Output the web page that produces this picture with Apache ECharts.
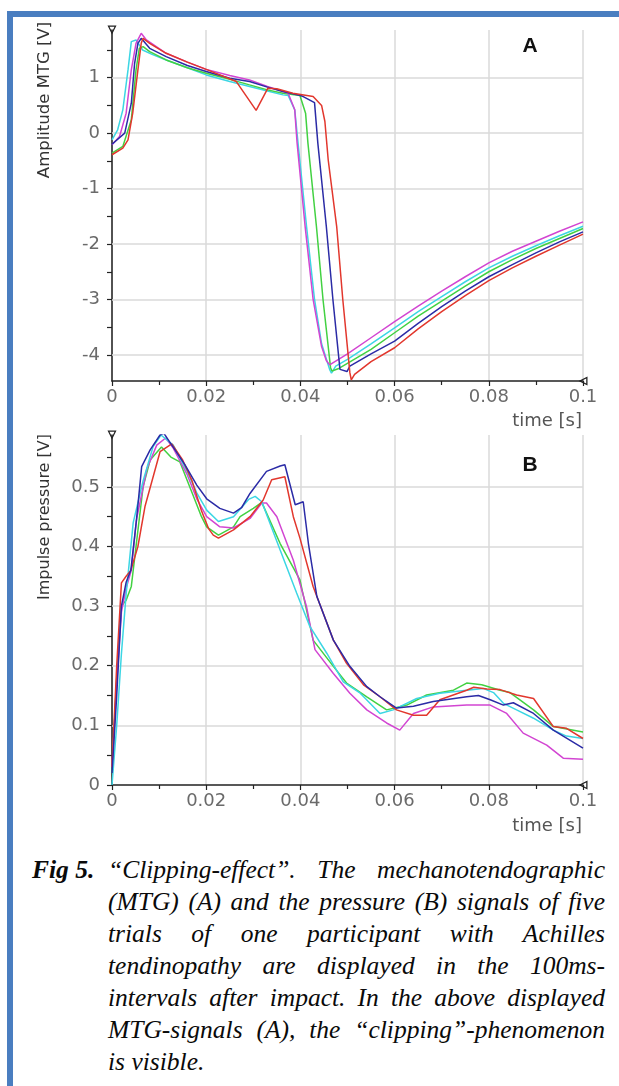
<!DOCTYPE html>
<html>
<head>
<meta charset="utf-8">
<script src="https://cdn.jsdelivr.net/npm/echarts@6/dist/echarts.min.js"></script>
<style>
  html, body { margin: 0; padding: 0; background: #fff; }
  body { width: 619px; height: 1086px; position: relative; overflow: hidden; }
  #chart { position: absolute; left: 0; top: 0; width: 619px; height: 850px; }
  .bar-top { position: absolute; left: 7px; top: 11px; width: 612px; height: 6px; background: #4a7ec0; }
  .bar-left { position: absolute; left: 7px; top: 11px; width: 6px; height: 1075px; background: #4a7ec0; }
  #cap { position: absolute; left: 0; top: 854px; width: 619px; font-family: "Liberation Serif", "DejaVu Serif", serif; font-style: italic; font-size: 25.5px; line-height: 32px; color: #0a0a0a; }
  #cap .fig { position: absolute; left: 32px; top: 0; font-weight: bold; }
  #cap .ln { position: absolute; left: 108px; width: 497px; white-space: nowrap; text-align: justify; text-align-last: justify; }
  #cap .ln.last { text-align: left; text-align-last: left; }
</style>
</head>
<body>
<div class="bar-top"></div>
<div class="bar-left"></div>
<div id="chart"></div>
<div id="cap"></div>
<script>
// ---------------- DATA ----------------
// (A) MTG amplitude [V] vs time [s]  — five trials
const mtgCyan = [[0,-0.12],[0.0012,0.06],[0.0023,0.42],[0.0034,1.14],[0.0041,1.65],[0.0051,1.68],[0.0058,1.59],[0.0065,1.5],[0.0085,1.42],[0.0115,1.32],[0.016,1.18],[0.02,1.05],[0.025,0.93],[0.0292,0.84],[0.033,0.76],[0.0363,0.69],[0.0374,0.68],[0.0388,0.42],[0.0395,-0.18],[0.0413,-1.68],[0.043,-3.0],[0.0445,-3.8],[0.0462,-4.26],[0.0466,-4.33],[0.0475,-4.2],[0.05,-4.08],[0.055,-3.8],[0.06,-3.51],[0.065,-3.22],[0.07,-2.95],[0.075,-2.68],[0.08,-2.43],[0.085,-2.22],[0.09,-2.03],[0.095,-1.85],[0.1,-1.68]];
const mtgMagenta = [[0,-0.21],[0.0016,-0.06],[0.003,0.36],[0.0041,1.14],[0.0051,1.62],[0.0062,1.8],[0.0073,1.68],[0.0115,1.44],[0.016,1.28],[0.02,1.15],[0.025,1.04],[0.0292,0.96],[0.033,0.84],[0.0363,0.75],[0.0374,0.72],[0.0388,0.42],[0.0393,-0.18],[0.041,-1.68],[0.0427,-3.0],[0.0445,-3.85],[0.0455,-4.1],[0.0462,-4.18],[0.05,-3.98],[0.055,-3.69],[0.06,-3.4],[0.065,-3.12],[0.07,-2.85],[0.075,-2.59],[0.08,-2.34],[0.085,-2.13],[0.09,-1.95],[0.095,-1.77],[0.1,-1.6]];
const mtgBlue = [[0,-0.2],[0.0027,0],[0.0041,0.54],[0.0048,1.26],[0.0055,1.62],[0.0062,1.71],[0.008,1.53],[0.0115,1.38],[0.016,1.22],[0.02,1.11],[0.025,0.99],[0.0292,0.93],[0.033,0.83],[0.0363,0.75],[0.04,0.68],[0.0406,0.66],[0.043,0.55],[0.0437,-0.18],[0.0455,-1.68],[0.0469,-3.0],[0.0484,-4.26],[0.0499,-4.3],[0.0505,-4.2],[0.055,-3.98],[0.06,-3.75],[0.065,-3.43],[0.07,-3.13],[0.075,-2.85],[0.08,-2.59],[0.085,-2.37],[0.09,-2.16],[0.095,-1.96],[0.1,-1.78]];
const mtgGreen = [[0,-0.36],[0.0023,-0.24],[0.0041,0.24],[0.0051,1.14],[0.0058,1.53],[0.0066,1.56],[0.008,1.47],[0.0115,1.32],[0.016,1.18],[0.02,1.08],[0.025,0.97],[0.0292,0.87],[0.033,0.78],[0.0363,0.72],[0.0399,0.68],[0.0411,0.36],[0.0416,-0.18],[0.0434,-1.68],[0.0448,-3.0],[0.0464,-4.23],[0.0467,-4.29],[0.048,-4.25],[0.055,-3.9],[0.06,-3.6],[0.065,-3.3],[0.07,-3.03],[0.075,-2.76],[0.08,-2.5],[0.085,-2.28],[0.09,-2.08],[0.095,-1.9],[0.1,-1.72]];
const mtgRed = [[0,-0.39],[0.0023,-0.27],[0.0034,-0.12],[0.0044,0.36],[0.0055,1.14],[0.0062,1.62],[0.0066,1.71],[0.008,1.62],[0.0115,1.44],[0.016,1.28],[0.02,1.15],[0.0264,0.93],[0.0306,0.41],[0.0331,0.81],[0.035,0.8],[0.0384,0.72],[0.0427,0.66],[0.0445,0.5],[0.0452,0.21],[0.0459,-0.48],[0.0477,-1.68],[0.049,-3.0],[0.0505,-4.32],[0.0508,-4.45],[0.0515,-4.35],[0.055,-4.12],[0.06,-3.87],[0.065,-3.53],[0.07,-3.22],[0.075,-2.93],[0.08,-2.66],[0.085,-2.43],[0.09,-2.22],[0.095,-2.02],[0.1,-1.82]];

// (B) impulse pressure [V] vs time [s] — five trials
const pressBlue = [[0,0.02],[0.001,0.15],[0.002,0.3],[0.003,0.34],[0.004,0.36],[0.0052,0.445],[0.0063,0.534],[0.0081,0.562],[0.0102,0.587],[0.011,0.59],[0.0127,0.57],[0.0155,0.537],[0.018,0.503],[0.0201,0.48],[0.0229,0.464],[0.0258,0.456],[0.0275,0.465],[0.0293,0.489],[0.0328,0.526],[0.0357,0.535],[0.0367,0.537],[0.0389,0.47],[0.0406,0.475],[0.0417,0.405],[0.0435,0.316],[0.047,0.243],[0.0505,0.199],[0.0541,0.165],[0.0569,0.148],[0.0604,0.129],[0.064,0.132],[0.0682,0.14],[0.0753,0.148],[0.0778,0.15],[0.0803,0.143],[0.0831,0.134],[0.0852,0.138],[0.0895,0.12],[0.0937,0.092],[0.1,0.062]];
const pressRed = [[0,0.03],[0.001,0.2],[0.002,0.339],[0.003,0.35],[0.004,0.36],[0.0055,0.4],[0.007,0.467],[0.0102,0.559],[0.0127,0.572],[0.015,0.545],[0.017,0.51],[0.019,0.46],[0.0205,0.43],[0.0215,0.419],[0.0226,0.414],[0.0258,0.428],[0.0293,0.45],[0.0321,0.478],[0.0339,0.512],[0.0367,0.517],[0.0385,0.45],[0.0399,0.414],[0.0427,0.333],[0.047,0.243],[0.0498,0.204],[0.0534,0.168],[0.0569,0.148],[0.0604,0.126],[0.064,0.117],[0.0668,0.117],[0.0696,0.143],[0.0753,0.159],[0.0768,0.164],[0.0796,0.161],[0.0824,0.16],[0.0859,0.151],[0.0895,0.145],[0.0937,0.098],[0.0965,0.095],[0.1,0.078]];
const pressCyan = [[0,0],[0.001,0.1],[0.002,0.22],[0.003,0.32],[0.0045,0.44],[0.0066,0.51],[0.0087,0.567],[0.0104,0.587],[0.013,0.57],[0.016,0.525],[0.018,0.49],[0.0201,0.461],[0.0226,0.442],[0.0258,0.45],[0.029,0.479],[0.0304,0.484],[0.0318,0.475],[0.0357,0.394],[0.0392,0.322],[0.042,0.266],[0.0456,0.221],[0.0491,0.173],[0.0527,0.154],[0.0569,0.12],[0.0597,0.126],[0.0647,0.145],[0.0696,0.154],[0.0753,0.159],[0.0788,0.162],[0.081,0.155],[0.0831,0.137],[0.0859,0.126],[0.0895,0.112],[0.0937,0.092],[0.0965,0.082],[0.1,0.078]];
const pressGreen = [[0,0.02],[0.001,0.18],[0.002,0.3],[0.003,0.31],[0.0041,0.333],[0.0051,0.4],[0.0066,0.5],[0.0081,0.545],[0.0105,0.567],[0.0125,0.55],[0.0144,0.542],[0.017,0.49],[0.019,0.45],[0.0201,0.433],[0.0226,0.419],[0.0258,0.433],[0.0272,0.45],[0.03,0.464],[0.0318,0.474],[0.0357,0.405],[0.0399,0.344],[0.0427,0.243],[0.047,0.199],[0.0498,0.171],[0.0541,0.148],[0.0583,0.126],[0.0626,0.134],[0.0668,0.151],[0.0725,0.159],[0.0753,0.171],[0.0785,0.168],[0.0824,0.159],[0.0845,0.155],[0.0895,0.126],[0.0937,0.098],[0.1,0.089]];
const pressMagenta = [[0,0.03],[0.001,0.17],[0.002,0.29],[0.003,0.33],[0.0041,0.36],[0.0052,0.445],[0.0074,0.53],[0.0095,0.57],[0.0114,0.582],[0.013,0.565],[0.016,0.52],[0.018,0.48],[0.0201,0.45],[0.0229,0.433],[0.0258,0.431],[0.0293,0.447],[0.0318,0.473],[0.0328,0.473],[0.035,0.45],[0.0385,0.377],[0.0413,0.299],[0.0431,0.227],[0.047,0.187],[0.0505,0.154],[0.0541,0.126],[0.0583,0.104],[0.0611,0.092],[0.064,0.12],[0.0682,0.131],[0.0753,0.134],[0.0803,0.134],[0.0838,0.12],[0.0873,0.087],[0.0923,0.067],[0.0958,0.045],[0.1,0.043]];

// axis ticks / labels
const mtgLabelTicks = [-4, -3, -2, -1, 0, 1];
const mtgMinorTicks = [-4, -3.5, -3, -2.5, -2, -1.5, -1, -0.5, 0, 0.5, 1, 1.5];
const pressLabelTicks = [0, 0.1, 0.2, 0.3, 0.4, 0.5];
const pressMinorTicks = [0, 0.05, 0.1, 0.15, 0.2, 0.25, 0.3, 0.35, 0.4, 0.45, 0.5, 0.55];

const captionFig = 'Fig 5.';
const captionLines = [
  '\u201CClipping-effect\u201D. The mechanotendographic',
  '(MTG) (A) and the pressure (B) signals of five',
  'trials of one participant with Achilles',
  'tendinopathy are displayed in the 100ms-',
  'intervals after impact. In the above displayed',
  'MTG-signals (A), the \u201Cclipping\u201D-phenomenon',
  'is visible.'
];

// ---------------- CAPTION ----------------
const cap = document.getElementById('cap');
const f = document.createElement('div'); f.className = 'fig'; f.textContent = captionFig; cap.appendChild(f);
captionLines.forEach((t, i) => {
  const d = document.createElement('div');
  d.className = 'ln' + (i === captionLines.length - 1 ? ' last' : '');
  d.style.top = (i * 32) + 'px';
  d.textContent = t;
  cap.appendChild(d);
});

// ---------------- CHART ----------------
const colors = { red: '#e2372d', blue: '#2b2ba6', green: '#42d142', cyan: '#3cd6e4', magenta: '#d245d2' };
const tickFont = { color: '#6a6a6a', fontSize: 18, fontFamily: 'DejaVu Sans' };
const gridColor = '#dadada';
const endSym = 'path://M0,0 L10,0 L5,10 Z M2.2,1.4 L5,7 L7.8,1.4 Z';

function xAxisDef(gi) {
  return {
    type: 'value', gridIndex: gi, min: 0, max: 0.1, interval: 0.02,
    axisLine: { show: true, onZero: false, lineStyle: { color: '#222', width: 1.5 }, symbol: ['none', endSym], symbolSize: [9, 9] },
    axisTick: { show: true, length: 5, lineStyle: { color: '#222', width: 1.2 } },
    minorTick: { show: true, splitNumber: 2, length: 4, lineStyle: { color: '#222', width: 1.2 } },
    axisLabel: Object.assign({ margin: 7 }, tickFont),
    splitLine: { show: true, lineStyle: { color: gridColor, width: 1.5 } }
  };
}
function yAxisDef(gi, mn, mx, labels, ticks) {
  return {
    type: 'value', gridIndex: gi, min: mn, max: mx,
    axisLine: { show: true, onZero: false, lineStyle: { color: '#222', width: 1.5 }, symbol: ['none', endSym], symbolSize: [9, 9] },
    axisTick: { show: true, length: 5, customValues: ticks, lineStyle: { color: '#222', width: 1.2 } },
    axisLabel: Object.assign({ margin: 12, customValues: labels }, tickFont),
    splitLine: { show: false }
  };
}
function gridLines(vals) {
  return {
    silent: true, symbol: 'none', z: 1,
    label: { show: false },
    lineStyle: { color: gridColor, width: 1.5, type: 'solid' },
    emphasis: { disabled: true },
    data: vals.map(v => ({ yAxis: v }))
  };
}
function ser(name, data, color, xi, extra) {
  return Object.assign({
    name, type: 'line', data, xAxisIndex: xi, yAxisIndex: xi,
    showSymbol: false, symbol: 'none', smooth: false, animation: false,
    lineStyle: { color, width: 1.5 }, itemStyle: { color }, z: 3
  }, extra || {});
}

const chart = echarts.init(document.getElementById('chart'), null, { renderer: 'canvas' });
chart.setOption({
  animation: false,
  backgroundColor: 'transparent',
  grid: [
    { left: 112, right: 36, top: 30, height: 351 },
    { left: 112, right: 36, top: 435, height: 350 }
  ],
  xAxis: [xAxisDef(0), xAxisDef(1)],
  yAxis: [
    yAxisDef(0, -4.47, 1.86, mtgLabelTicks, mtgMinorTicks),
    yAxisDef(1, 0, 0.587, pressLabelTicks, pressMinorTicks)
  ],
  graphic: [
    { type: 'text', x: 530, y: 46, style: { text: 'A', fill: '#111', font: 'bold 21px "Liberation Sans", Arial, sans-serif', align: 'center', verticalAlign: 'middle' } },
    { type: 'text', x: 530, y: 465, style: { text: 'B', fill: '#111', font: 'bold 21px "Liberation Sans", Arial, sans-serif', align: 'center', verticalAlign: 'middle' } },
    { type: 'text', x: 45, y: 100, rotation: Math.PI / 2, style: { text: 'Amplitude MTG [V]', fill: '#333', font: '16.5px "DejaVu Sans", sans-serif', align: 'center', verticalAlign: 'middle' } },
    { type: 'text', x: 45, y: 517, rotation: Math.PI / 2, style: { text: 'Impulse pressure [V]', fill: '#333', font: '16px "DejaVu Sans", sans-serif', align: 'center', verticalAlign: 'middle' } },
    { type: 'text', x: 582, y: 421, style: { text: 'time [s]', fill: '#555', font: '18px "DejaVu Sans", sans-serif', align: 'right', verticalAlign: 'middle' } },
    { type: 'text', x: 582, y: 826, style: { text: 'time [s]', fill: '#555', font: '18px "DejaVu Sans", sans-serif', align: 'right', verticalAlign: 'middle' } }
  ],
  series: [
    ser('grid A', [], '#000', 0, { markLine: gridLines(mtgLabelTicks), z: 1 }),
    ser('cyan A', mtgCyan, colors.cyan, 0),
    ser('green A', mtgGreen, colors.green, 0),
    ser('magenta A', mtgMagenta, colors.magenta, 0),
    ser('blue A', mtgBlue, colors.blue, 0),
    ser('red A', mtgRed, colors.red, 0),
    ser('grid B', [], '#000', 1, { markLine: gridLines(pressLabelTicks.filter(v => v > 0)), z: 1 }),
    ser('green B', pressGreen, colors.green, 1),
    ser('magenta B', pressMagenta, colors.magenta, 1),
    ser('cyan B', pressCyan, colors.cyan, 1),
    ser('red B', pressRed, colors.red, 1),
    ser('blue B', pressBlue, colors.blue, 1)
  ]
});
</script>
</body>
</html>
